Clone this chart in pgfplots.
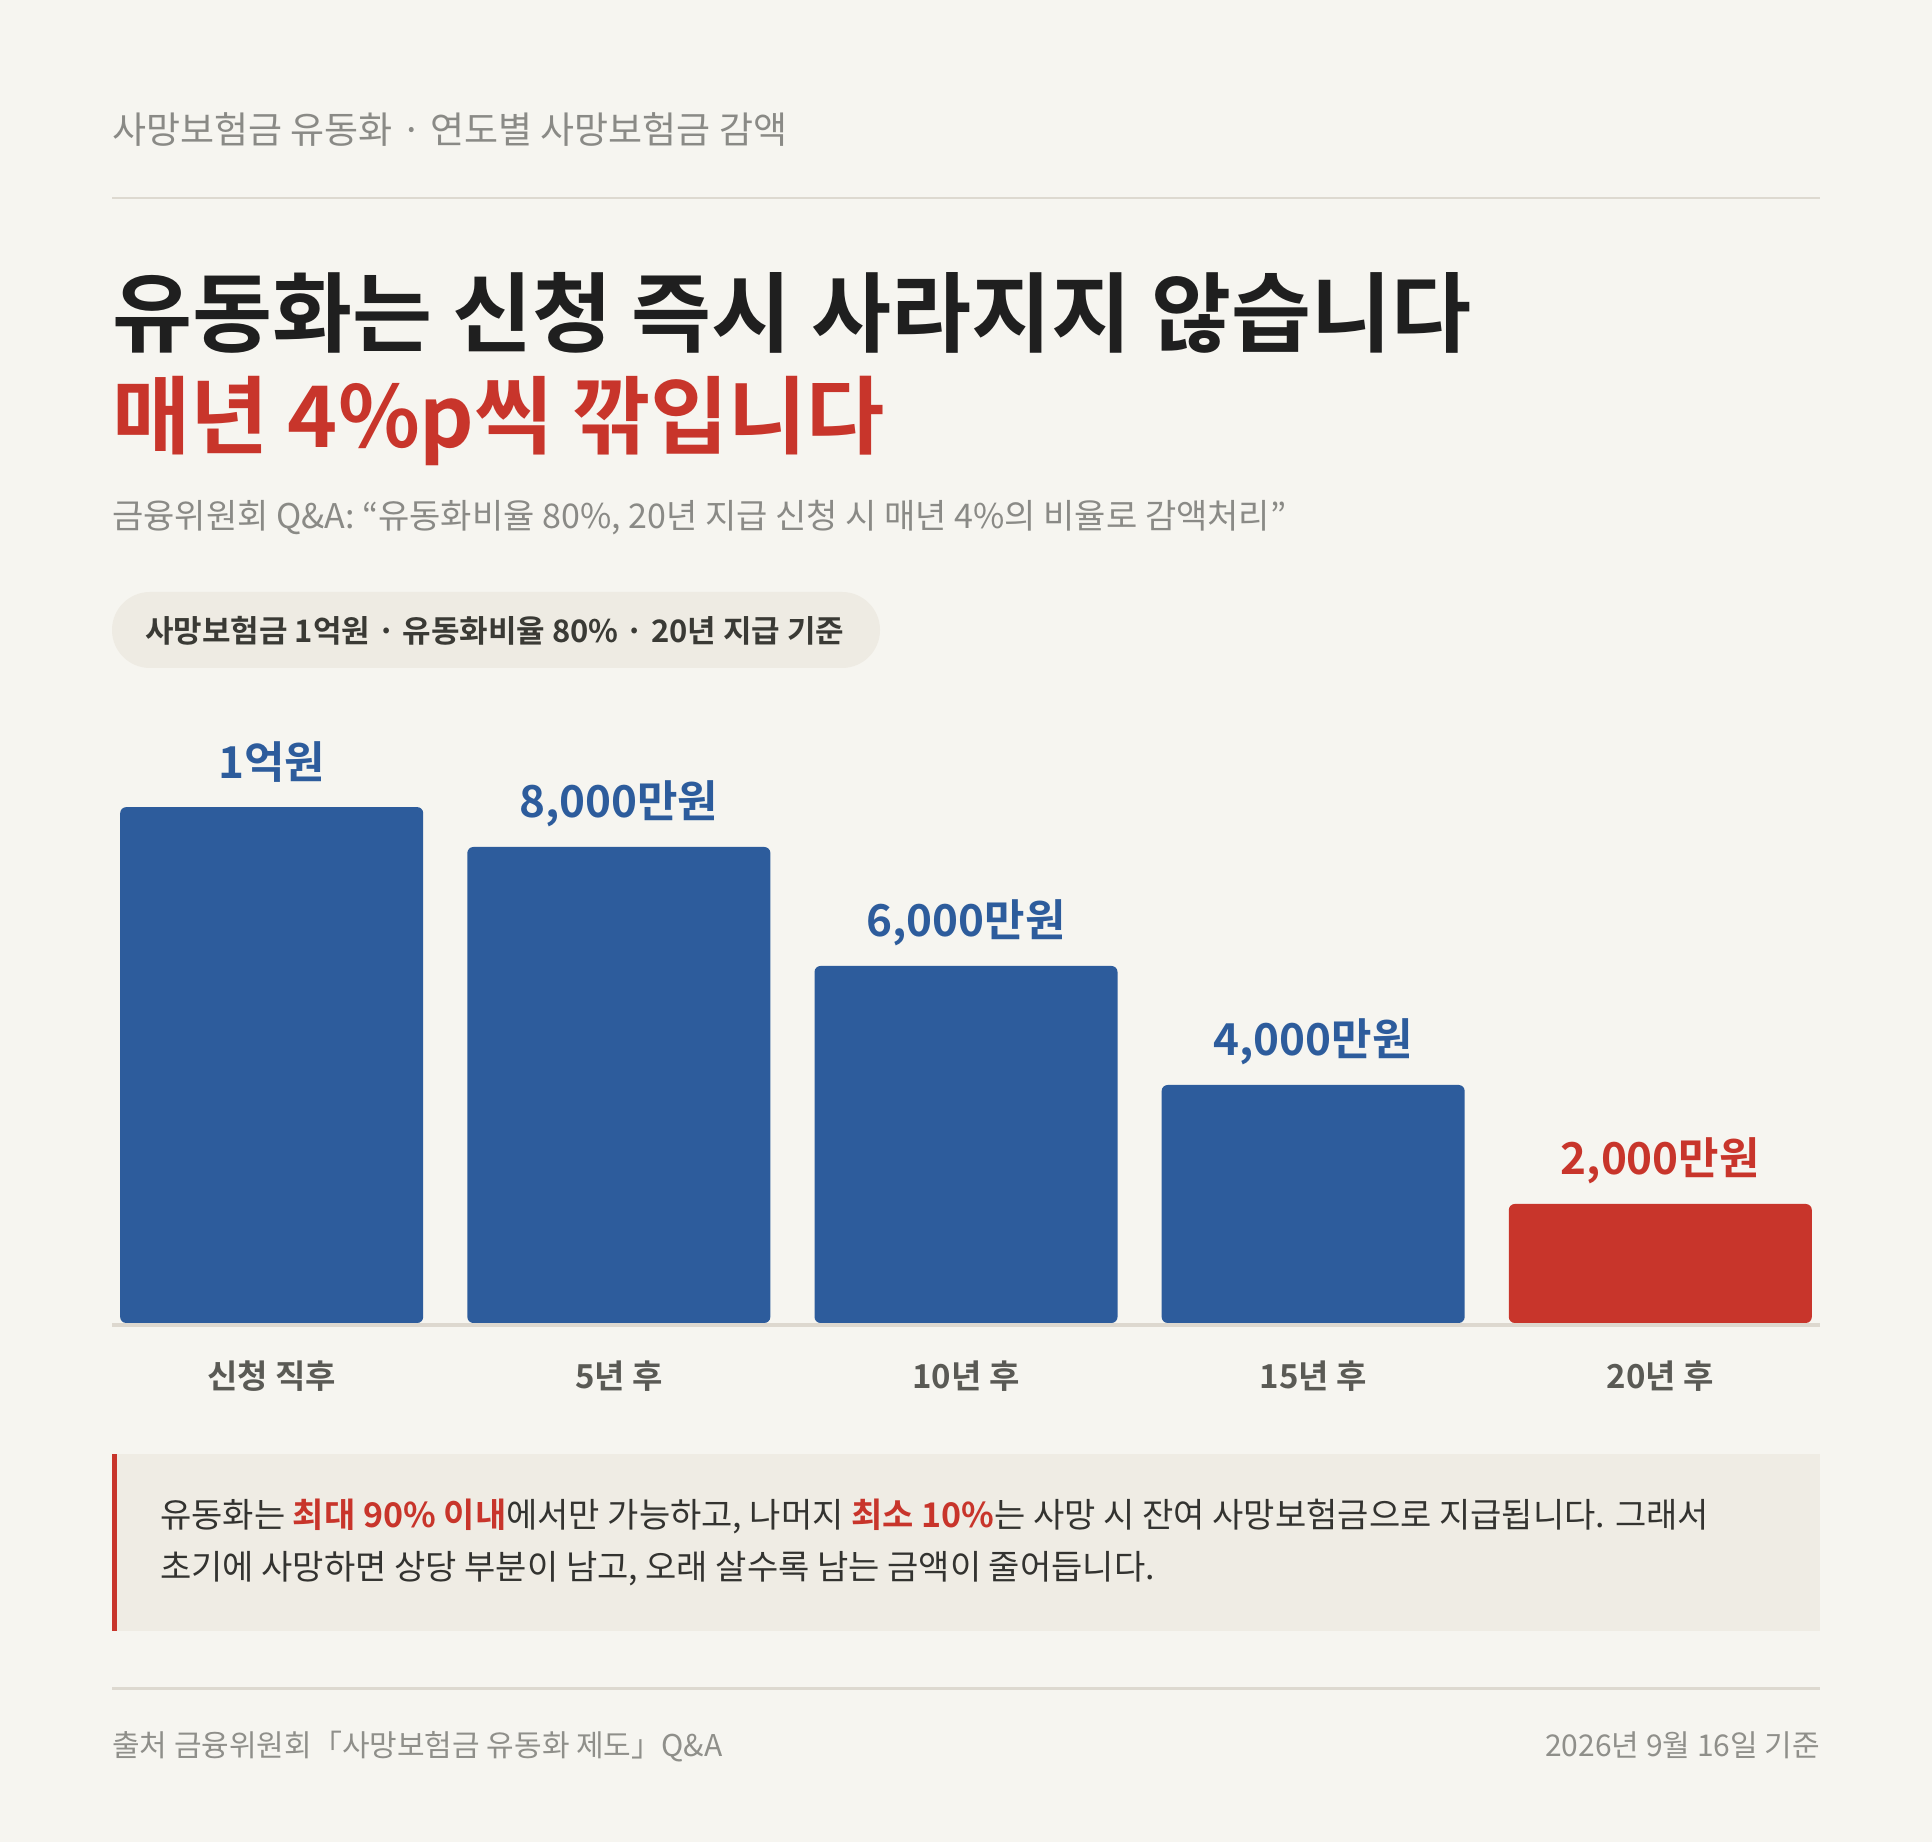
\documentclass[border=0pt]{standalone}
\usepackage{fontspec}
\setmainfont{Noto Sans CJK KR}[BoldFont={Noto Sans CJK KR Bold}]
\usepackage{pgfplots}
\pgfplotsset{compat=1.18}

\definecolor{bg}{HTML}{F6F5F0}
\definecolor{subgray}{HTML}{8A8A86}
\definecolor{rulecol}{HTML}{DDD9D0}
\definecolor{titleblack}{HTML}{1F1F1F}
\definecolor{barblue}{HTML}{2D5C9C}
\definecolor{barred}{HTML}{C8352B}
\definecolor{pillbg}{HTML}{EEEBE3}
\definecolor{pilltext}{HTML}{3A3A35}
\definecolor{catgray}{HTML}{5A5A55}
\definecolor{axisline}{HTML}{DDD8CF}
\definecolor{calloutbg}{HTML}{EFECE4}
\definecolor{bodytext}{HTML}{333330}
\definecolor{footgray}{HTML}{8F8F8A}

\newcommand{\fs}[1]{\fontsize{#1}{#1}\selectfont}

\begin{document}
\begin{tikzpicture}[x=1pt,y=1pt]
% background
\fill[bg] (0,0) rectangle (1932,1842);

% header
\node[anchor=base west, inner sep=0, text=subgray, font=\fs{37}] at (112,1698)
  {사망보험금 유동화 · 연도별 사망보험금 감액};
\draw[rulecol, line width=2pt] (112,1644) -- (1820,1644);

\node[anchor=base west, inner sep=0, text=titleblack, font=\fs{87}\bfseries] at (112,1496)
  {유동화는 신청 즉시 사라지지 않습니다};
\node[anchor=base west, inner sep=0, text=barred, font=\fs{85}\bfseries] at (112,1394)
  {매년 4\%p씩 깎입니다};

\node[anchor=base west, inner sep=0, text=subgray, font=\fs{34}] at (112,1313)
  {금융위원회 Q\&A: “유동화비율 80\%, 20년 지급 신청 시 매년 4\%의 비율로 감액처리”};

% pill
\fill[pillbg, rounded corners=38pt] (112,1174) rectangle (880,1250);
\node[anchor=base west, inner sep=0, text=pilltext, font=\fs{31}\bfseries] at (145,1199)
  {사망보험금 1억원 · 유동화비율 80\% · 20년 지급 기준};

% chart
\begin{axis}[
    at={(112pt,517pt)}, anchor=south west,
    scale only axis,
    width=1708pt, height=597pt,
    xmin=-0.46, xmax=4.46,
    ymin=-34, ymax=10000,
    ybar, bar width=303pt, bar shift=0pt,
    axis x line*=bottom,
    axis y line=none,
    x axis line style={-, draw=axisline, line width=4pt},
    xtick={0,...,4},
    xticklabels={신청 직후, 5년 후, 10년 후, 15년 후, 20년 후},
    xtick style={draw=none},
    xticklabel style={font=\fs{33}\bfseries, text=catgray, anchor=base, yshift=-59pt},
    clip=false,
    nodes near coords,
    point meta=explicit symbolic,
    every node near coord/.append style={font=\fs{44}\bfseries, anchor=base, inner sep=0pt, yshift=29pt},
]

\addplot[fill=barblue, draw=none, rounded corners=6pt,
  every node near coord/.append style={text=barblue}]
  coordinates {
  (0,8670) [1억원]
  (1,8000) [{8,000만원}]
  (2,6000) [{6,000만원}]
  (3,4000) [{4,000만원}]
};

\addplot[fill=barred, draw=none, rounded corners=6pt,
  every node near coord/.append style={text=barred}]
  coordinates {
  (4,2000) [{2,000만원}]
};

\end{axis}

% callout
\fill[calloutbg] (112,211) rectangle (1820,388);
\fill[barred] (112,211) rectangle (117,388);
\node[anchor=base west, inner sep=0, text=bodytext, font=\fs{34}] at (160,314)
  {유동화는 {\bfseries\color{barred}최대 90\% 이내}에서만 가능하고, 나머지 {\bfseries\color{barred}최소 10\%}는 사망 시 잔여 사망보험금으로 지급됩니다. 그래서};
\node[anchor=base west, inner sep=0, text=bodytext, font=\fs{34}] at (160,262)
  {초기에 사망하면 상당 부분이 남고, 오래 살수록 남는 금액이 줄어듭니다.};

% footer
\draw[rulecol, line width=3pt] (112,154) -- (1820,154);
\node[anchor=base west, inner sep=0, text=footgray, font=\fs{30}] at (112,86)
  {출처 금융위원회「사망보험금 유동화 제도」Q\&A};
\node[anchor=base east, inner sep=0, text=footgray, font=\fs{30}] at (1820,86)
  {2026년 9월 16일 기준};
\end{tikzpicture}
\end{document}
